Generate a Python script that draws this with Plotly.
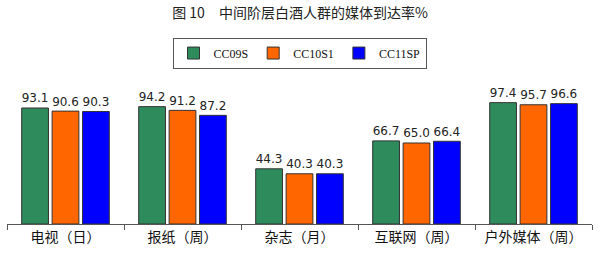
import plotly.graph_objects as go

categories = ["电视（日）", "报纸（周）", "杂志（月）", "互联网（周）", "户外媒体（周）"]
series_names = ["CC09S", "CC10S1", "CC11SP"]
cc09s = [93.1, 94.2, 44.3, 66.7, 97.4]
cc10s1 = [90.6, 91.2, 40.3, 65.0, 95.7]
cc11sp = [90.3, 87.2, 40.3, 66.4, 96.6]
colors = ["#2E8B5C", "#FF6600", "#0000FF"]

fig = go.Figure()
for name, vals, col in zip(series_names, [cc09s, cc10s1, cc11sp], colors):
    fig.add_trace(go.Bar(
        x=categories, y=vals, name=name,
        marker=dict(color=col, line=dict(color="#333333", width=1)),
        text=[f"{v:.1f}" for v in vals], textposition="outside",
        textfont=dict(size=14, color="#222222", family="DejaVu Sans"),
        cliponaxis=False,
    ))

fig.update_layout(
    width=600, height=264,
    margin=dict(l=7, r=8, t=70, b=40),
    paper_bgcolor="white", plot_bgcolor="white",
    barmode="group", bargap=0.22, bargroupgap=0.12,
    title=dict(text="图 10　中间阶层白酒人群的媒体到达率%", x=0.5, xanchor="center",
               y=0.95, yanchor="middle",
               font=dict(size=14, color="#222222", family="Noto Sans CJK SC")),
    legend=dict(orientation="h", x=0.5, xanchor="center", y=1.11, yanchor="middle",
                bordercolor="#555555", borderwidth=1, bgcolor="white",
                font=dict(size=12, color="#111111", family="Liberation Serif"),
                itemwidth=30, tracegroupgap=0),
    showlegend=True,
)
fig.update_xaxes(showline=True, linecolor="#555555", linewidth=1,
                 ticks="outside", tickson="boundaries", ticklen=5, tickcolor="#555555",
                 tickfont=dict(size=14, color="#111111", family="Noto Sans CJK SC"))
fig.update_yaxes(visible=False, range=[0, 123.6], showgrid=False)

fig.write_html("out.html")
